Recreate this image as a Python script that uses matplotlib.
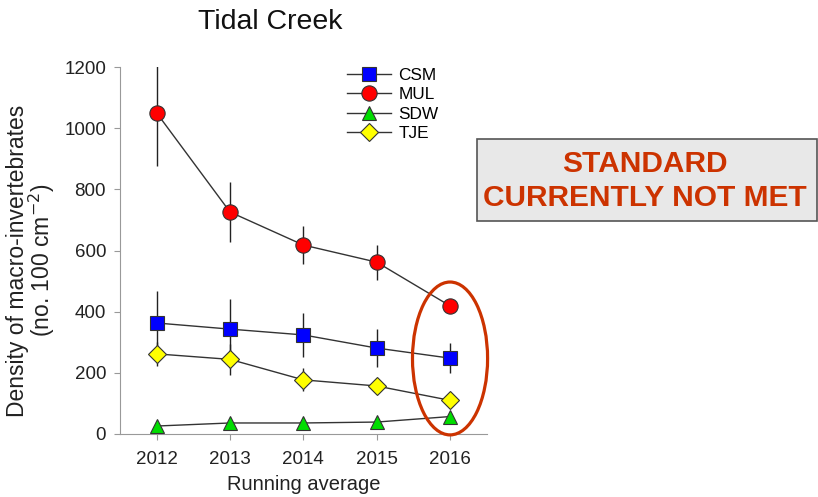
import matplotlib
matplotlib.use("Agg")
import matplotlib.pyplot as plt
from matplotlib.patches import Ellipse

plt.rcParams['font.family'] = ['Liberation Sans', 'DejaVu Sans']

years = [2012, 2013, 2014, 2015, 2016]
csm = [363, 343, 324, 281, 248]
csm_err = [105, 100, 72, 62, 50]
mul = [1050, 726, 618, 562, 419]
mul_err = [175, 97, 63, 57, 15]
sdw = [26, 36, 36, 39, 57]
sdw_err = [0, 0, 0, 0, 0]
tje = [262, 244, 177, 157, 110]
tje_err = [40, 50, 38, 25, 8]

fig = plt.figure(figsize=(8.18, 4.97), dpi=100)
ax = fig.add_axes([0.1467, 0.1268, 0.4483, 0.7382])

series = [
    ("CSM", csm, csm_err, "s", "#0000ff", 10),
    ("MUL", mul, mul_err, "o", "#ff0000", 11),
    ("SDW", sdw, sdw_err, "^", "#00dd00", 10),
    ("TJE", tje, tje_err, "D", "#ffff00", 9),
]
for name, vals, err, mk, col, ms in series:
    ax.errorbar(years, vals, yerr=err, fmt='none', ecolor='#222222', elinewidth=1, capsize=0, zorder=2)
    ax.plot(years, vals, color='#333333', lw=1, marker=mk, markersize=ms,
            markerfacecolor=col, markeredgecolor='#333333', markeredgewidth=0.8,
            label=name, zorder=3)

ax.set_xlim(2011.5, 2016.5)
ax.set_ylim(0, 1200)
ax.set_xticks(years)
ax.set_yticks([0, 200, 400, 600, 800, 1000, 1200])
for s in ['top', 'right']:
    ax.spines[s].set_visible(False)
for s in ['left', 'bottom']:
    ax.spines[s].set_color('#999999')
ax.tick_params(direction='out', colors='#999999', labelcolor='#222222', labelsize=13.5, length=4)
ax.tick_params(axis='x', pad=8)
ax.tick_params(axis='y', pad=6)

ax.set_xlabel("Running average", fontsize=14.5, color='#222222', labelpad=5)
ax.set_ylabel("Density of macro-invertebrates\n(no. 100 cm$^{-2}$)", fontsize=16.5,
              color='#222222', linespacing=0.88)
ax.yaxis.set_label_coords(-0.172, 0.473)

leg = ax.legend(loc='upper left', bbox_to_anchor=(0.578, 1.04), frameon=False,
                fontsize=12.4, handlelength=2.5, labelspacing=0.25, handletextpad=0.45)

ell = Ellipse((2016.0, 247), width=1.024, height=500, fill=False,
              edgecolor='#cc3300', lw=2.3, clip_on=False, zorder=4)
ax.add_patch(ell)

fig.text(0.330, 0.955, "Tidal Creek", fontsize=20.5, color='#111111', ha='center', va='center')

fig.patches.append(plt.Rectangle((0.583, 0.555), 0.416, 0.165, transform=fig.transFigure,
                                 facecolor='#e8e8e8', edgecolor='#555555', lw=1.2, figure=fig))
fig.text(0.788, 0.636, "STANDARD\nCURRENTLY NOT MET", fontsize=21.5, fontweight='bold',
         color='#cc3300', ha='center', va='center', linespacing=1.25)

fig.savefig("out.png", dpi=100)
